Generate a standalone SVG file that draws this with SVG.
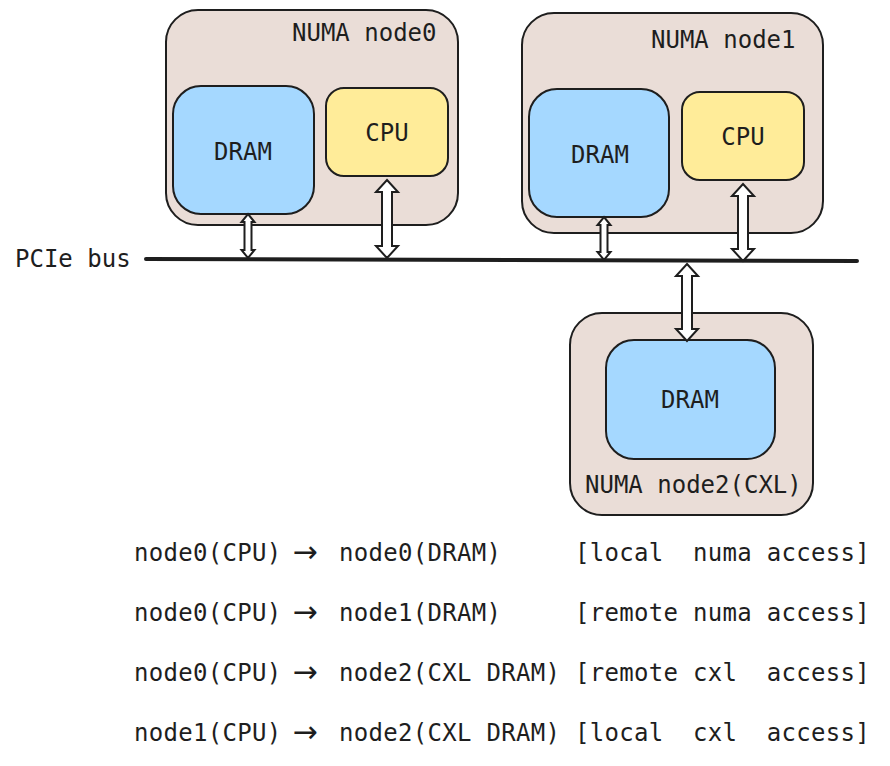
<svg xmlns="http://www.w3.org/2000/svg" width="890" height="766" viewBox="0 0 890 766">
<style>
text{font-family:"DejaVu Sans Mono","Liberation Mono",monospace;font-size:24px;fill:#1e1e1e;white-space:pre}
.outer{fill:#eaddd7;stroke:#1e1e1e;stroke-width:2}
.dram{fill:#a5d8ff;stroke:#1e1e1e;stroke-width:2}
.cpu{fill:#ffec99;stroke:#1e1e1e;stroke-width:2}
.arr{fill:#ffffff;stroke:#1e1e1e;stroke-width:2;stroke-linejoin:miter}
.mid{text-anchor:middle}
.leg{letter-spacing:0.3px}
.ar{font-family:"DejaVu Sans",sans-serif;font-size:30px;text-anchor:middle}
</style>
<rect width="890" height="766" fill="#ffffff"/>
<g id="node0">
<rect class="outer" x="166" y="10" width="292" height="215" rx="32"/>
<text x="292" y="41">NUMA node0</text>
</g>
<g id="node0-dram">
<rect class="dram" x="173" y="86" width="141" height="128" rx="28"/>
<text class="mid" x="243" y="160">DRAM</text>
</g>
<g id="node0-cpu">
<rect class="cpu" x="326" y="88" width="122" height="88" rx="18"/>
<text class="mid" x="387" y="141">CPU</text>
</g>
<g id="node1">
<rect class="outer" x="522" y="13" width="301" height="220" rx="32"/>
<text x="651" y="48">NUMA node1</text>
</g>
<g id="node1-dram">
<rect class="dram" x="529" y="89" width="140" height="128" rx="28"/>
<text class="mid" x="600" y="163">DRAM</text>
</g>
<g id="node1-cpu">
<rect class="cpu" x="682" y="92" width="122" height="88" rx="18"/>
<text class="mid" x="743" y="145">CPU</text>
</g>
<g id="node2">
<rect class="outer" x="570" y="313" width="243" height="202" rx="32"/>
<text x="585" y="493">NUMA node2(CXL)</text>
</g>
<g id="node2-dram">
<rect class="dram" x="606" y="340" width="169" height="119" rx="28"/>
<text class="mid" x="690" y="408">DRAM</text>
</g>
<g id="bus">
<text x="15" y="267">PCIe bus</text>
<line x1="146" y1="259" x2="857" y2="261" stroke="#1e1e1e" stroke-width="4" stroke-linecap="round"/>
</g>
<g id="connectors">
<path class="arr" d="M248,214 L254.5,222 L251.5,222 L251.5,250 L254.5,250 L248,258 L241.5,250 L244.5,250 L244.5,222 L241.5,222 Z"/>
<path class="arr" d="M604,217 L610.5,225 L607.5,225 L607.5,252 L610.5,252 L604,260 L597.5,252 L600.5,252 L600.5,225 L597.5,225 Z"/>
<path class="arr" d="M387,180 L398,192 L392,192 L392,246 L398,246 L387,258 L376,246 L382,246 L382,192 L376,192 Z"/>
<path class="arr" d="M743,184 L754,196 L748,196 L748,249 L754,249 L743,261 L732,249 L738,249 L738,196 L732,196 Z"/>
<path class="arr" d="M687,264 L698,276 L692,276 L692,329 L698,329 L687,341 L676,329 L682,329 L682,276 L676,276 Z"/>
</g>
<g id="legend">
<text class="leg" x="134" y="561">node0(CPU)</text><text class="ar" x="305" y="562">→</text><text class="leg" x="339" y="561">node0(DRAM)</text><text class="leg" x="575" y="561" xml:space="preserve">[local  numa access]</text>
<text class="leg" x="134" y="621">node0(CPU)</text><text class="ar" x="305" y="622">→</text><text class="leg" x="339" y="621">node1(DRAM)</text><text class="leg" x="575" y="621" xml:space="preserve">[remote numa access]</text>
<text class="leg" x="134" y="681">node0(CPU)</text><text class="ar" x="305" y="682">→</text><text class="leg" x="339" y="681">node2(CXL DRAM)</text><text class="leg" x="575" y="681" xml:space="preserve">[remote cxl  access]</text>
<text class="leg" x="134" y="741">node1(CPU)</text><text class="ar" x="305" y="742">→</text><text class="leg" x="339" y="741">node2(CXL DRAM)</text><text class="leg" x="575" y="741" xml:space="preserve">[local  cxl  access]</text>
</g>
</svg>
